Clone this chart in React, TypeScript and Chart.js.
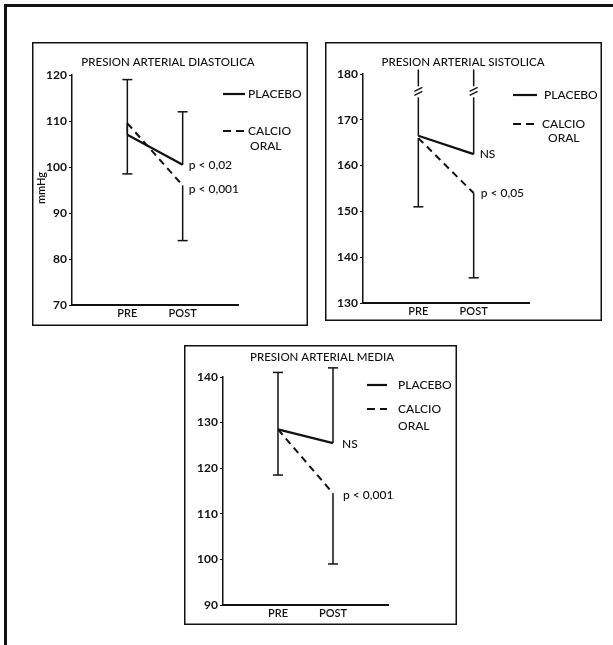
import React, { useEffect, useRef } from "react";
import { Chart, registerables } from "chart.js";

Chart.register(...registerables);

// ---------- DATA ----------
const categories = ["PRE", "POST"];
const seriesNames = ["PLACEBO", "CALCIO", "ORAL"];

// Presión arterial diastólica
const diaTitle = "PRESION ARTERIAL DIASTOLICA";
const diaTicks = [70, 80, 90, 100, 110, 120];
const diaPlacebo = [107, 100.5];
const diaCalcio = [109.5, 96];
const diaPlaceboUpper = [119, 112];
const diaCalcioLower = [98.5, 84];
const diaNotes = ["p < 0,02", "p < 0,001"];

// Presión arterial sistólica
const sisTitle = "PRESION ARTERIAL SISTOLICA";
const sisTicks = [130, 140, 150, 160, 170, 180];
const sisPlacebo = [166.5, 162.5];
const sisCalcio = [166, 154];
const sisPlaceboUpper = [181, 181];
const sisCalcioLower = [151, 135.5];
const sisBreak = [176, 176];
const sisNotes = ["NS", "p < 0,05"];

// Presión arterial media
const medTitle = "PRESION ARTERIAL MEDIA";
const medTicks = [90, 100, 110, 120, 130, 140];
const medPlacebo = [128.5, 125.5];
const medCalcio = [128.5, 114.5];
const medPlaceboUpper = [141, 142];
const medCalcioLower = [118.5, 99];
const medNotes = ["NS", "p < 0,001"];

const FONT = "Lato, 'Open Sans', sans-serif";
const INK = "#111";

type PanelCfg = {
  title: string;
  ticks: number[];
  placebo: number[];
  calcio: number[];
  placeboUpper: number[];
  calcioLower: number[];
  notes: string[];
  breaks?: number[];
  topCap: boolean;
  yTitle?: string;
  box: { left: number; top: number; width: number; height: number };
  area: { l: number; t: number; r: number; b: number };
  titlePos: { x: number; y: number };
  legend: { x0: number; x1: number; tx: number; y1: number; y2: number; ox: number; y3: number; tx2: number };
  noteOffsets: { dx: number; dy: number }[];
};

const panels: PanelCfg[] = [
  {
    title: diaTitle,
    ticks: diaTicks,
    placebo: diaPlacebo,
    calcio: diaCalcio,
    placeboUpper: diaPlaceboUpper,
    calcioLower: diaCalcioLower,
    notes: diaNotes,
    topCap: true,
    yTitle: "mmHg",
    box: { left: 32, top: 42, width: 276, height: 284 },
    area: { l: 40, t: 33, r: 206, b: 263 },
    titlePos: { x: 136, y: 20 },
    legend: { x0: 191, x1: 213, tx: 216, y1: 52, y2: 89, ox: 218, y3: 104, tx2: 216 },
    noteOffsets: [{ dx: 6, dy: 0 }, { dx: 6, dy: 4 }],
  },
  {
    title: sisTitle,
    ticks: sisTicks,
    placebo: sisPlacebo,
    calcio: sisCalcio,
    placeboUpper: sisPlaceboUpper,
    calcioLower: sisCalcioLower,
    notes: sisNotes,
    breaks: sisBreak,
    topCap: false,
    box: { left: 325, top: 42, width: 277, height: 279 },
    area: { l: 38, t: 32, r: 204, b: 261 },
    titlePos: { x: 138, y: 20 },
    legend: { x0: 188, x1: 212, tx: 219, y1: 53, y2: 82, ox: 223, y3: 96, tx2: 217 },
    noteOffsets: [{ dx: 6, dy: 0 }, { dx: 7, dy: 0 }],
  },
  {
    title: medTitle,
    ticks: medTicks,
    placebo: medPlacebo,
    calcio: medCalcio,
    placeboUpper: medPlaceboUpper,
    calcioLower: medCalcioLower,
    notes: medNotes,
    topCap: true,
    box: { left: 184, top: 345, width: 273, height: 280 },
    area: { l: 39, t: 32, r: 204, b: 260 },
    titlePos: { x: 138, y: 12 },
    legend: { x0: 183, x1: 203, tx: 214, y1: 40, y2: 64, ox: 214, y3: 81, tx2: 214 },
    noteOffsets: [{ dx: 9, dy: 1 }, { dx: 10, dy: 2 }],
  },
];

const Y_AXIS_W = 30;
const X_AXIS_H = 20;

function extrasPlugin(cfg: PanelCfg) {
  return {
    id: "extras",
    beforeDraw(chart: any) {
      const { ctx, width, height } = chart;
      ctx.save();
      ctx.fillStyle = "#fff";
      ctx.fillRect(0, 0, width, height);
      ctx.strokeStyle = INK;
      ctx.lineWidth = 1.5;
      ctx.strokeRect(0.75, 0.75, width - 1.5, height - 1.5);
      ctx.restore();
    },
    afterDatasetsDraw(chart: any) {
      const { ctx, scales } = chart;
      const xs = scales.x;
      const ys = scales.y;
      ctx.save();
      ctx.strokeStyle = INK;
      ctx.fillStyle = INK;
      ctx.lineWidth = 1.5;
      ctx.setLineDash([]);
      const seg = (x0: number, y0: number, x1: number, y1: number) => {
        ctx.beginPath();
        ctx.moveTo(x0, y0);
        ctx.lineTo(x1, y1);
        ctx.stroke();
      };
      const cap = (x: number, y: number) => seg(x - 5, y, x + 5, y);
      categories.forEach((_, i) => {
        const px = xs.getPixelForValue(i + 1);
        const pm = ys.getPixelForValue(cfg.placebo[i]);
        const pu = ys.getPixelForValue(cfg.placeboUpper[i]);
        seg(px, pm, px, pu);
        if (cfg.topCap) cap(px, pu);
        const cm = ys.getPixelForValue(cfg.calcio[i]);
        const cl = ys.getPixelForValue(cfg.calcioLower[i]);
        seg(px, cm, px, cl);
        cap(px, cl);
        if (cfg.breaks) {
          const by = ys.getPixelForValue(cfg.breaks[i]);
          ctx.fillStyle = "#fff";
          ctx.fillRect(px - 2, by - 6, 4, 11);
          ctx.lineWidth = 1.3;
          seg(px - 4, by - 1, px + 4, by - 5);
          seg(px - 4, by + 3, px + 4, by - 1);
          ctx.lineWidth = 1.5;
          ctx.fillStyle = INK;
        }
      });

      // annotations
      ctx.font = `500 12px ${FONT}`;
      ctx.textAlign = "left";
      ctx.textBaseline = "middle";
      const postX = xs.getPixelForValue(2);
      const means = [cfg.placebo[1], cfg.calcio[1]];
      cfg.notes.forEach((t, k) => {
        const o = cfg.noteOffsets[k];
        ctx.fillText(t, postX + o.dx, ys.getPixelForValue(means[k]) + o.dy);
      });

      // title
      ctx.font = `500 11.5px ${FONT}`;
      ctx.textAlign = "center";
      ctx.fillText(cfg.title, cfg.titlePos.x, cfg.titlePos.y);

      // legend
      const L = cfg.legend;
      ctx.lineWidth = 2.2;
      seg(L.x0, L.y1, L.x1, L.y1);
      ctx.setLineDash([8, 5]);
      seg(L.x0, L.y2, L.x1, L.y2);
      ctx.setLineDash([]);
      ctx.font = `500 12px ${FONT}`;
      ctx.textAlign = "left";
      ctx.fillText(seriesNames[0], L.tx, L.y1);
      ctx.fillText(seriesNames[1], L.tx2, L.y2);
      ctx.fillText(seriesNames[2], L.ox, L.y3);

      // y title
      if (cfg.yTitle) {
        ctx.save();
        ctx.translate(chart.chartArea.left - 31, chart.chartArea.top + 113);
        ctx.rotate(-Math.PI / 2);
        ctx.textAlign = "center";
        ctx.textBaseline = "middle";
        ctx.font = `600 11px ${FONT}`;
        ctx.fillText(cfg.yTitle, 0, 0);
        ctx.restore();
      }
      ctx.restore();
    },
  };
}

function Panel({ cfg }: { cfg: PanelCfg }) {
  const ref = useRef<HTMLCanvasElement>(null);
  useEffect(() => {
    if (!ref.current) return;
    const { box, area } = cfg;
    const toPts = (arr: number[]) => arr.map((v, i) => ({ x: i + 1, y: v }));
    const chart = new Chart(ref.current, {
      type: "line",
      data: {
        datasets: [
          {
            label: seriesNames[0],
            data: toPts(cfg.placebo),
            borderColor: INK,
            borderWidth: 2.2,
            pointRadius: 0,
            tension: 0,
          },
          {
            label: seriesNames[1] + " " + seriesNames[2],
            data: toPts(cfg.calcio),
            borderColor: INK,
            borderWidth: 2,
            borderDash: [7, 5],
            pointRadius: 0,
            tension: 0,
          },
        ],
      },
      options: {
        animation: false,
        responsive: false,
        events: [],
        layout: {
          padding: {
            left: area.l - Y_AXIS_W,
            top: area.t,
            right: box.width - area.r,
            bottom: box.height - area.b - X_AXIS_H,
          },
        },
        plugins: {
          legend: { display: false },
          title: { display: false },
          tooltip: { enabled: false },
        },
        scales: {
          x: {
            type: "linear",
            min: 0,
            max: categories.length + 1,
            afterBuildTicks: (s: any) => {
              s.ticks = categories.map((_, i) => ({ value: i + 1 }));
            },
            afterFit: (s: any) => {
              s.height = X_AXIS_H;
            },
            ticks: {
              callback: (v: any) => categories[Number(v) - 1] ?? "",
              color: INK,
              font: { family: FONT, size: 11, weight: "600" },
              padding: 2,
              maxRotation: 0,
              autoSkip: false,
            },
            grid: { display: false, drawTicks: false, tickLength: 0 },
            border: { display: true, color: INK, width: 2 },
          },
          y: {
            type: "linear",
            min: cfg.ticks[0],
            max: cfg.ticks[cfg.ticks.length - 1],
            afterBuildTicks: (s: any) => {
              s.ticks = cfg.ticks.map((v) => ({ value: v }));
            },
            afterFit: (s: any) => {
              s.width = Y_AXIS_W;
            },
            ticks: {
              color: INK,
              font: { family: FONT, size: 12, weight: "bold" },
              padding: 2,
            },
            grid: {
              display: true,
              drawOnChartArea: false,
              drawTicks: true,
              tickLength: 3,
              color: INK,
              lineWidth: 1,
            },
            border: { display: true, color: INK, width: 1.5 },
          },
        },
      } as any,
      plugins: [extrasPlugin(cfg)],
    });
    return () => chart.destroy();
  }, [cfg]);
  return (
    <canvas
      ref={ref}
      width={cfg.box.width}
      height={cfg.box.height}
      style={{
        position: "absolute",
        left: cfg.box.left,
        top: cfg.box.top,
        width: cfg.box.width,
        height: cfg.box.height,
      }}
    />
  );
}

export default function App() {
  return (
    <div
      style={{
        position: "absolute",
        left: 0,
        top: 0,
        width: 613,
        height: 645,
        background: "#fff",
        overflow: "hidden",
      }}
    >
      <div
        style={{
          position: "absolute",
          left: 4,
          top: 4,
          width: 609,
          height: 641,
          borderTop: "3px solid #111",
          borderLeft: "3px solid #111",
          boxSizing: "border-box",
        }}
      />
      {panels.map((p, i) => (
        <Panel key={i} cfg={p} />
      ))}
    </div>
  );
}
